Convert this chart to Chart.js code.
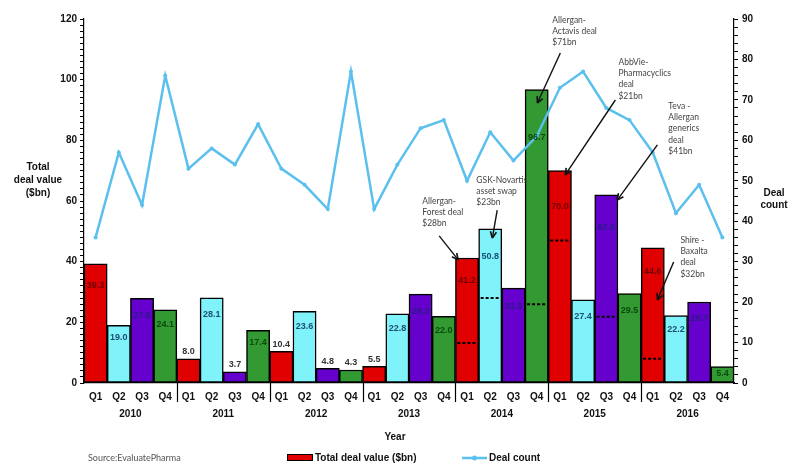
<!DOCTYPE html>
<html><head><meta charset="utf-8">
<script src="https://cdn.jsdelivr.net/npm/chart.js@4.4.0/dist/chart.umd.min.js"></script>
<style>html,body{margin:0;padding:0;background:#fff;}canvas{display:block;}</style>
</head><body>
<canvas id="c" width="789" height="463"></canvas>
<script>
const years = ['2010','2011','2012','2013','2014','2015','2016'];
const quarters = ['Q1','Q2','Q3','Q4'];
const totalDealValue = [39.3,19.0,27.9,24.1, 8.0,28.1,3.7,17.4, 10.4,23.6,4.8,4.3, 5.5,22.8,29.3,22.0, 41.2,50.8,31.3,96.7, 70.0,27.4,62.0,29.5, 44.6,22.2,26.7,5.4];
const dealCount = [36,57,44,76, 53,58,54,64, 53,49,43,77, 43,54,63,65, 50,62,55,61, 73,77,68,65, 57,42,49,36];
const valueExMegaDeal = [null,null,null,null, null,null,null,null, null,null,null,null, null,null,null,null, 13.2,28.0,null,26.0, 47.0,null,21.8,null, 8.0,null,null,null];
const yLeftTicks = [0,20,40,60,80,100,120];
const yRightTicks = [0,10,20,30,40,50,60,70,80,90];

const categories = [];
years.forEach(y => quarters.forEach(q => categories.push(y + ' ' + q)));

const quarterColors = ['#e00000','#80f2fa','#6600cc','#339933'];
const quarterLabelColors = ['#6e0000','#1b4f72','#2a1a8a','#0a4a0a'];
const labelsAboveIdx = [4,6,8,10,11,12];

// annotation layout (x in category index units, y in left-axis units)
const annotations = [
  {lines:['Allergan-','Forest deal','$28bn'], tx:14.07, ty:60.0, from:[14.8,48.5], to:[15.62,40.6]},
  {lines:['GSK-Novartis','asset swap','$23bn'], tx:16.4, ty:66.9, from:[17.3,57.0], to:[17.09,47.8]},
  {lines:['Allergan-','Actavis deal','$71bn'], tx:19.67, ty:119.7, from:[20.02,108.8], to:[19.03,92.3]},
  {lines:['AbbVie-','Pharmacyclics','deal','$21bn'], tx:22.52, ty:105.8, from:[22.39,93.3], to:[20.23,68.6]},
  {lines:['Teva -','Allergan','generics','deal','$41bn'], tx:24.67, ty:91.3, from:[24.2,78.5], to:[22.47,60.3]},
  {lines:['Shire -','Baxalta','deal','$32bn'], tx:25.19, ty:47.1, from:[24.9,39.9], to:[24.2,27.4]}
];

function arrow(ctx, x1, y1, x2, y2) {
  ctx.save();
  ctx.strokeStyle = '#111'; ctx.fillStyle = '#111'; ctx.lineWidth = 1.4;
  ctx.beginPath(); ctx.moveTo(x1, y1); ctx.lineTo(x2, y2); ctx.stroke();
  const a = Math.atan2(y2 - y1, x2 - x1), L = 7, W = 0.45;
  ctx.beginPath();
  ctx.moveTo(x2, y2);
  ctx.lineTo(x2 - L * Math.cos(a - W), y2 - L * Math.sin(a - W));
  ctx.moveTo(x2, y2);
  ctx.lineTo(x2 - L * Math.cos(a + W), y2 - L * Math.sin(a + W));
  ctx.lineWidth = 1.6; ctx.stroke();
  ctx.restore();
}

const extras = {
  id: 'extras',
  afterDatasetsDraw(chart) {
    const ctx = chart.ctx, xs = chart.scales.x, ys = chart.scales.y;
    const barMeta = chart.getDatasetMeta(1);
    ctx.save();
    // dotted lines inside bars
    valueExMegaDeal.forEach((v, i) => {
      if (v === null) return;
      const el = barMeta.data[i];
      const half = el.width / 2;
      const yy = ys.getPixelForValue(v);
      ctx.save();
      ctx.strokeStyle = '#000'; ctx.lineWidth = 2; ctx.setLineDash([3, 2]);
      ctx.beginPath(); ctx.moveTo(el.x - half + 2, yy); ctx.lineTo(el.x + half - 2, yy); ctx.stroke();
      ctx.restore();
    });
    // bar labels
    ctx.font = 'bold 9px "Liberation Sans", Arial, sans-serif';
    ctx.textAlign = 'center'; ctx.textBaseline = 'middle';
    totalDealValue.forEach((v, i) => {
      const el = barMeta.data[i];
      const top = ys.getPixelForValue(v), bottom = ys.getPixelForValue(0);
      const h = bottom - top;
      const txt = v.toFixed(1);
      if (labelsAboveIdx.includes(i)) {
        ctx.fillStyle = '#333';
        ctx.fillText(txt, el.x, top - 7);
      } else {
        ctx.fillStyle = quarterLabelColors[i % 4];
        ctx.fillText(txt, el.x, Math.min(top + 0.15 * h + 4, bottom - 6));
      }
    });
    // annotations
    annotations.forEach(a => {
      ctx.font = '8.5px Lato, "Open Sans", sans-serif';
      ctx.fillStyle = '#444'; ctx.textAlign = 'left'; ctx.textBaseline = 'middle';
      const x0 = xs.getPixelForValue(a.tx), y0 = ys.getPixelForValue(a.ty);
      a.lines.forEach((l, k) => ctx.fillText(l, x0, y0 + k * 11.3));
      arrow(ctx, xs.getPixelForValue(a.from[0]), ys.getPixelForValue(a.from[1]),
                 xs.getPixelForValue(a.to[0]), ys.getPixelForValue(a.to[1]));
    });
    ctx.restore();
  },
  afterDraw(chart) {
    const ctx = chart.ctx, xs = chart.scales.x, ca = chart.chartArea;
    ctx.save();
    // year separators and labels
    ctx.strokeStyle = '#000'; ctx.lineWidth = 1.2;
    for (let k = 1; k < years.length; k++) {
      const xx = Math.round((xs.getPixelForValue(4 * k - 1) + xs.getPixelForValue(4 * k)) / 2) + 0.5;
      ctx.beginPath(); ctx.moveTo(xx, ca.bottom); ctx.lineTo(xx, ca.bottom + 19); ctx.stroke();
    }
    ctx.fillStyle = '#111';
    ctx.font = 'bold 10px "Liberation Sans", Arial, sans-serif';
    ctx.textAlign = 'center'; ctx.textBaseline = 'middle';
    years.forEach((y, k) => {
      const xx = (xs.getPixelForValue(4 * k + 1) + xs.getPixelForValue(4 * k + 2)) / 2;
      ctx.fillText(y, xx, ca.bottom + 31);
    });
    ctx.fillText('Year', 395, 437);
    // axis titles
    ['Total', 'deal value', '($bn)'].forEach((t, k) => ctx.fillText(t, 38, 167 + k * 13));
    ['Deal', 'count'].forEach((t, k) => ctx.fillText(t, 774, 193 + k * 12));
    // legend
    ctx.fillStyle = quarterColors[0]; ctx.fillRect(287, 454, 26, 7);
    ctx.strokeStyle = '#000'; ctx.lineWidth = 1; ctx.strokeRect(287.5, 454.5, 25, 6);
    ctx.fillStyle = '#111'; ctx.textAlign = 'left';
    ctx.fillText('Total deal value ($bn)', 315, 458);
    ctx.strokeStyle = '#5bc0ee'; ctx.lineWidth = 2.5;
    ctx.beginPath(); ctx.moveTo(462, 458); ctx.lineTo(487, 458); ctx.stroke();
    ctx.fillStyle = '#5bc0ee'; ctx.beginPath(); ctx.arc(474.5, 458, 2.5, 0, Math.PI * 2); ctx.fill();
    ctx.fillStyle = '#111';
    ctx.fillText('Deal count', 489, 458);
    // source
    ctx.font = '9px Lato, "Open Sans", sans-serif';
    ctx.fillStyle = '#555';
    ctx.fillText('Source:EvaluatePharma', 88, 458);
    ctx.restore();
  }
};

const tickFont = {family: '"Liberation Sans", Arial, sans-serif', size: 10, weight: 'bold'};

new Chart(document.getElementById('c'), {
  type: 'bar',
  data: {
    labels: categories,
    datasets: [
      {
        type: 'line', label: 'Deal count', data: dealCount, yAxisID: 'y1',
        borderColor: '#5bc0ee', backgroundColor: '#5bc0ee', borderWidth: 2.5,
        pointRadius: 2, pointBorderWidth: 0, tension: 0, order: 1
      },
      {
        type: 'bar', label: 'Total deal value ($bn)', data: totalDealValue, yAxisID: 'y',
        backgroundColor: totalDealValue.map((v, i) => quarterColors[i % 4]),
        borderColor: '#000', borderWidth: 1.5, borderSkipped: false,
        barPercentage: 1, categoryPercentage: 1, order: 2
      }
    ]
  },
  options: {
    responsive: false, animation: false, devicePixelRatio: 1,
    layout: {padding: {top: 19, left: 0, right: 0, bottom: 0}},
    plugins: {legend: {display: false}, tooltip: {enabled: false}},
    scales: {
      x: {
        grid: {display: false, drawTicks: false},
        border: {display: true, color: '#000', width: 1.2},
        ticks: {font: tickFont, color: '#111', padding: 8, maxRotation: 0, autoSkip: false,
          callback: (v, i) => quarters[i % 4]},
        afterFit: s => { s.height = 80; }
      },
      y: {
        position: 'left', min: 0, max: 120,
        grid: {drawOnChartArea: false, color: '#000', tickLength: 4},
        border: {color: '#000', width: 1.2},
        ticks: {stepSize: 2, autoSkip: false, maxTicksLimit: 1000, font: tickFont, color: '#111', padding: 3,
          callback: v => yLeftTicks.includes(v) ? v : ''},
        afterFit: s => { s.width = 84; }
      },
      y1: {
        position: 'right', min: 0, max: 90,
        grid: {drawOnChartArea: false, color: '#000', tickLength: 4},
        border: {color: '#000', width: 1.2},
        ticks: {stepSize: 2, autoSkip: false, maxTicksLimit: 1000, font: tickFont, color: '#111', padding: 4,
          callback: v => yRightTicks.includes(v) ? v : ''},
        afterFit: s => { s.width = 55; }
      }
    }
  },
  plugins: [extras]
});
</script>
</body></html>
